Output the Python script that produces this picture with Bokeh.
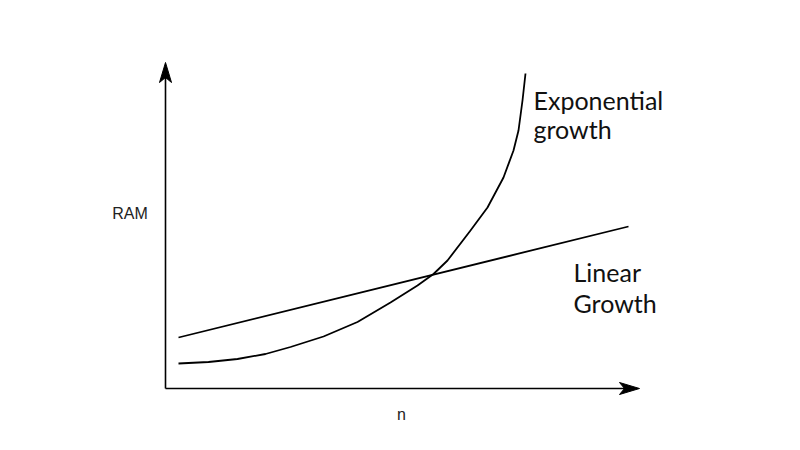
from bokeh.plotting import figure
from bokeh.models import Range1d, ColumnDataSource
from bokeh.core.properties import value
from bokeh.embed import file_html
from bokeh.resources import INLINE

# ---- data ----
lin_n = [0.26, 9.26]
lin_ram = [1.02, 3.24]

exp_n = [0.26, 0.86, 1.44, 2.00, 2.50, 3.16, 3.84, 4.50, 5.04, 5.36, 5.64,
         6.10, 6.44, 6.76, 6.96, 7.06, 7.14, 7.20]
exp_ram = [0.50, 0.53, 0.59, 0.69, 0.83, 1.04, 1.33, 1.72, 2.06, 2.29, 2.56,
           3.16, 3.62, 4.22, 4.76, 5.16, 5.76, 6.30]

x_axis_end = 9.48
y_axis_end = 6.52

curve_labels = ["Exponential", "growth", "Linear", "Growth"]
curve_label_x = [7.36, 7.36, 8.16, 8.16]
curve_label_y = [5.78, 5.20, 2.34, 1.71]

axis_labels = ["RAM", "n"]
axis_label_x = [-1.066, 4.63]
axis_label_y = [3.51, -0.51]

W, H = 784, 434
PX = 50.0  # pixels per data unit
OX, OY = 165, 46  # origin position inside the canvas (px from left / bottom)

p = figure(width=W, height=H, output_backend="svg", toolbar_location=None,
           x_range=Range1d(-OX / PX, (W - OX) / PX),
           y_range=Range1d(-OY / PX, (H - OY) / PX),
           min_border=0, min_border_left=0, min_border_right=0,
           min_border_top=0, min_border_bottom=0)
p.axis.visible = False
p.grid.visible = False
p.outline_line_color = None
p.background_fill_color = "white"
p.border_fill_color = "white"

# axes lines
p.line([0, x_axis_end - 0.2], [0, 0], line_color="black", line_width=1.6)
p.line([0, 0], [0, y_axis_end - 0.2], line_color="black", line_width=1.6)

# arrowheads (sizes in data units: length 20px, width 12px, notch 5px)
L, Wd, N = 20 / PX, 12 / PX, 5 / PX
hx = [[x_axis_end, x_axis_end - L, x_axis_end - L + N, x_axis_end - L],
      [0, Wd / 2, 0, -Wd / 2]]
hy = [[0, Wd / 2, 0, -Wd / 2],
      [y_axis_end, y_axis_end - L, y_axis_end - L + N, y_axis_end - L]]
p.patches(hx, hy, fill_color="black", line_color="black", line_width=1)

# curves
p.line(lin_n, lin_ram, line_color="black", line_width=1.8)
p.line(exp_n, exp_ram, line_color="black", line_width=1.8, line_join="round")

src = ColumnDataSource(dict(x=curve_label_x, y=curve_label_y, t=curve_labels))
p.text("x", "y", text="t", source=src, text_font=value("Lato"),
       text_font_size="25px", text_color="#111111",
       text_align="left", text_baseline="alphabetic")

src2 = ColumnDataSource(dict(x=axis_label_x, y=axis_label_y, t=axis_labels))
p.text("x", "y", text="t", source=src2, text_font=value("Liberation Sans"),
       text_font_size="16px", text_color="#222222",
       text_align="left", text_baseline="alphabetic")

open("out.html", "w").write(file_html(p, INLINE))
